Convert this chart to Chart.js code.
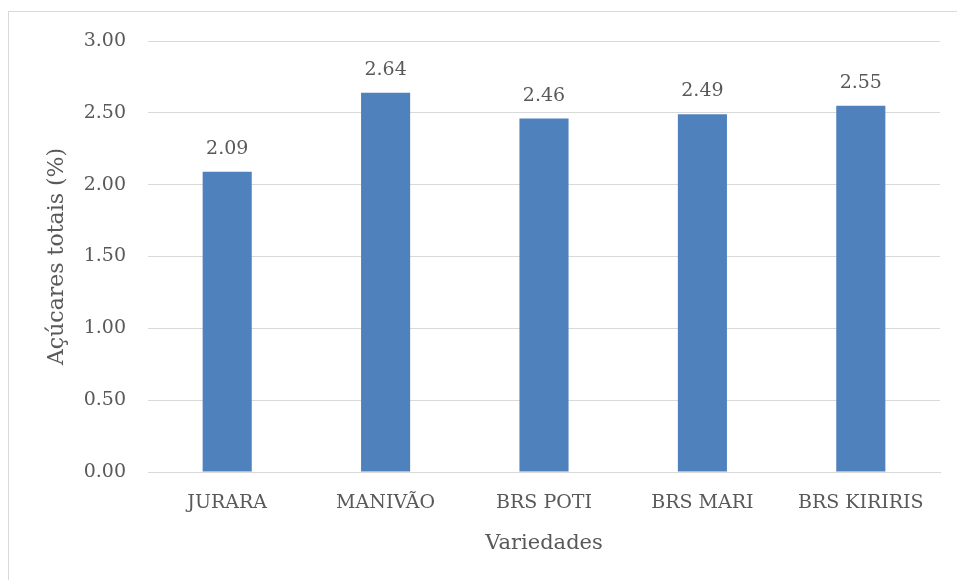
<!DOCTYPE html>
<html>
<head>
<meta charset="utf-8">
<script src="https://cdn.jsdelivr.net/npm/chart.js@4/dist/chart.umd.min.js"></script>
<style>
  html, body { margin: 0; padding: 0; background: #fff; }
  #wrap { position: relative; width: 957px; height: 580px; overflow: hidden; }
  #frame { position: absolute; left: 8px; top: 11px; width: 1000px; height: 700px; border: 1px solid #d9d9d9; box-sizing: border-box; }
  canvas { position: absolute; left: 0; top: 0; }
</style>
</head>
<body>
<div id="wrap">
  <div id="frame"></div>
  <canvas id="c" width="957" height="580"></canvas>
</div>
<script>
const categories = ["JURARA", "MANIVÃO", "BRS POTI", "BRS MARI", "BRS KIRIRIS"];
const values = [2.09, 2.64, 2.46, 2.49, 2.55];
const yTicks = [0, 0.5, 1.0, 1.5, 2.0, 2.5, 3.0];
const yTitle = "Açúcares totais (%)";
const xTitle = "Variedades";

const FONT = "'DejaVu Serif', 'Liberation Serif', serif";
const TXT = "#595959";

const labelPlugin = {
  id: 'barLabels',
  afterDatasetsDraw(chart) {
    const ctx = chart.ctx;
    const meta = chart.getDatasetMeta(0);
    ctx.save();
    ctx.font = "19px " + FONT;
    ctx.fillStyle = TXT;
    ctx.textAlign = 'center';
    ctx.textBaseline = 'alphabetic';
    meta.data.forEach((bar, i) => {
      ctx.fillText(values[i].toFixed(2), bar.x, bar.y - 18);
    });
    ctx.restore();
  }
};

new Chart(document.getElementById('c'), {
  type: 'bar',
  data: {
    labels: categories,
    datasets: [{
      data: values,
      backgroundColor: '#4F81BD',
      borderWidth: 0,
      categoryPercentage: 1.0,
      barPercentage: 0.31
    }]
  },
  options: {
    responsive: false,
    animation: false,
    events: [],
    layout: { padding: { left: 44, right: 17, top: 41, bottom: 24 } },
    plugins: { legend: { display: false }, tooltip: { enabled: false } },
    scales: {
      x: {
        grid: { display: false, drawTicks: false },
        border: { display: true, color: '#d9d9d9', width: 1 },
        ticks: { color: TXT, font: { family: FONT, size: 19 }, padding: 20, maxRotation: 0, autoSkip: false },
        title: { display: true, text: xTitle, color: TXT, font: { family: FONT, size: 21 }, padding: { top: 8, bottom: 0 } },
        afterFit(scale) { scale.height = 580 - 472 - 24; }
      },
      y: {
        min: 0, max: 3,
        afterBuildTicks(scale) { scale.ticks = yTicks.map(v => ({ value: v })); },
        grid: { color: '#d9d9d9', lineWidth: 1, drawTicks: false },
        border: { display: false },
        ticks: { color: TXT, font: { family: FONT, size: 19 }, padding: 22,
          callback: v => Number(v).toFixed(2) },
        title: { display: true, text: yTitle, color: TXT, font: { family: FONT, size: 22 }, padding: { top: 0, bottom: 10 } },
        afterFit(scale) { scale.width = 148 - 44; }
      }
    }
  },
  plugins: [labelPlugin]
});
</script>
</body>
</html>
